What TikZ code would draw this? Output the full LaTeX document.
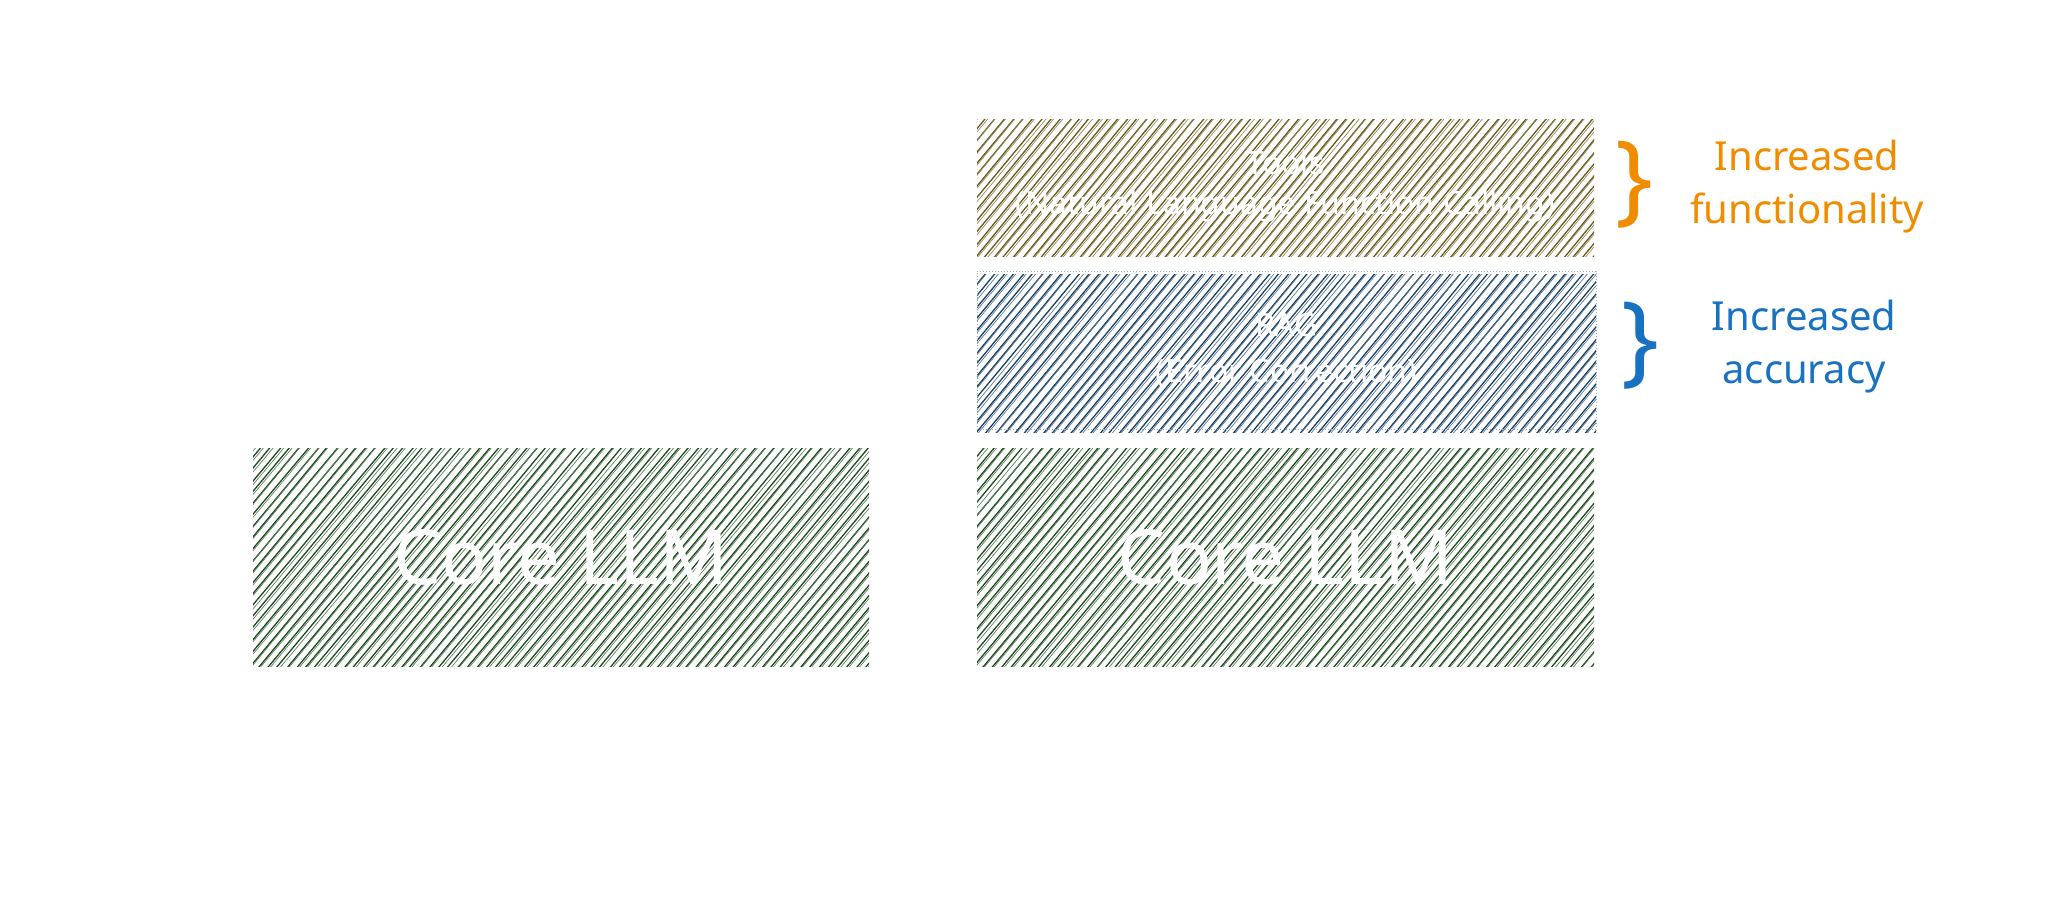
\documentclass[tikz,border=0pt]{standalone}
\usepackage{fontspec}
\setmainfont{Noto Sans}
\definecolor{corec}{HTML}{1D4D1D}
\definecolor{toolc}{HTML}{6B5A1B}
\definecolor{ragc}{HTML}{1B4266}
\definecolor{orangec}{HTML}{F08C00}
\definecolor{bluec}{HTML}{1971C2}
\newcommand{\myhatch}[5]{% color, x1, y1, x2, y2  (y grows downward)
  \begin{scope}
    \clip (#2,#3) rectangle (#4,#5);
    \pgfmathsetmacro{\hh}{#5-#3}
    \pgfmathsetmacro{\hdx}{\hh*0.85}
    \pgfmathsetmacro{\hstart}{#2-\hdx}
    \pgfmathsetmacro{\hnext}{\hstart+9.5}
    \foreach \s in {\hstart,\hnext,...,#4}{
      \draw[#1, line width=1.3pt, line cap=round] ({\s+rand}, {#5+2}) -- ({\s+\hdx+rand}, {#3-2});
      \draw[#1!70!white, line width=0.7pt] ({\s+2.2+rand}, {#5+2}) -- ({\s+2.2+\hdx+2*rand}, {#3-2});
    }
  \end{scope}}
\tikzset{
  box/.style={inner sep=0pt, text=white, align=center},
  sidelabel/.style={align=center, font=\fontsize{40}{53}\selectfont},
  bracestyle/.style={font=\bfseries\fontsize{100}{100}\selectfont, inner sep=0pt}
}
\begin{document}
\begin{tikzpicture}[x=1pt,y=-1pt]
\pgfmathsetseed{7}
\useasboundingbox (0,0) rectangle (2063,906);
\myhatch{corec}{253}{448}{869}{666}
\myhatch{corec}{977}{448}{1594}{666}
\myhatch{toolc}{977}{119}{1594}{256}
\myhatch{ragc}{977}{274}{1596}{432}
\node[box, minimum width=616pt, minimum height=218pt, font=\fontsize{76}{80}\selectfont] (coreL) at (561,557) {Core LLM};
\node[box, minimum width=617pt, minimum height=218pt, font=\fontsize{76}{80}\selectfont] (coreR) at (1285.5,557) {Core LLM};
\node[box, minimum width=617pt, minimum height=137pt, font=\fontsize{32}{40}\selectfont] (tools) at (1285.5,186) {Tools\\(Natural Language Function Calling)};
\node[box, minimum width=619pt, minimum height=158pt, draw=ragc!45!white, dotted, line width=1pt, font=\fontsize{32}{46}\selectfont] (rag) at (1286.5,350) {RAG\\(Error Correction)};
\node[bracestyle, text=orangec] (braceF) at (1634,185) {\}};
\node[bracestyle, text=bluec] (braceA) at (1640,346) {\}};
\node[sidelabel, text=orangec] (func) at (1807,187) {Increased\\functionality};
\node[sidelabel, text=bluec] (acc) at (1804,347) {Increased\\accuracy};
\end{tikzpicture}
\end{document}
